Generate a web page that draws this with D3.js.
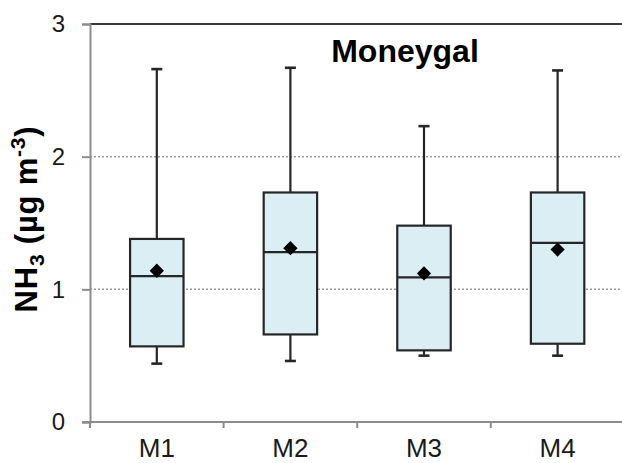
<!DOCTYPE html>
<html>
<head>
<meta charset="utf-8">
<script src="https://cdn.jsdelivr.net/npm/d3@7"></script>
<style>
  html, body { margin: 0; padding: 0; background: #fff; }
  svg { display: block; font-family: "Liberation Sans", Arial, sans-serif; }
</style>
</head>
<body>
<svg id="chart" width="622" height="463"></svg>
<script>
// ---- data ----
const categories = ["M1", "M2", "M3", "M4"];
const whiskerLow  = [0.44, 0.46, 0.50, 0.50];
const q1Values    = [0.57, 0.66, 0.54, 0.59];
const medianValues= [1.10, 1.28, 1.09, 1.35];
const q3Values    = [1.38, 1.73, 1.48, 1.73];
const whiskerHigh = [2.66, 2.67, 2.23, 2.65];
const meanValues  = [1.14, 1.31, 1.12, 1.30];
const yTicks = [0, 1, 2, 3];
const gridTicks = [1, 2];
const chartTitle = "Moneygal";

const rows = categories.map((c, i) => ({
  cat: c, lo: whiskerLow[i], q1: q1Values[i], med: medianValues[i],
  q3: q3Values[i], hi: whiskerHigh[i], mean: meanValues[i]
}));

const svg = d3.select("#chart");
const plotL = 90, plotR = 624.4, plotT = 24, plotB = 422;

const x = d3.scaleBand().domain(categories).range([plotL, plotR]).padding(0);
const y = d3.scaleLinear().domain([0, 3]).range([plotB, plotT]);

// gridlines
svg.append("g").selectAll("line").data(gridTicks).join("line")
  .attr("x1", plotL).attr("x2", plotR)
  .attr("y1", d => y(d)).attr("y2", d => y(d))
  .attr("stroke", "#9a9a9a").attr("stroke-width", 1.5)
  .attr("stroke-dasharray", "2,2");

// top border
svg.append("line")
  .attr("x1", plotL).attr("x2", plotR)
  .attr("y1", y(3)).attr("y2", y(3))
  .attr("stroke", "#3a3a3a").attr("stroke-width", 2);

// y axis
const yAxis = svg.append("g")
  .attr("transform", `translate(${plotL},0)`)
  .call(d3.axisLeft(y).tickValues(yTicks).tickFormat(d3.format("d")).tickSize(8).tickPadding(17));
yAxis.select(".domain").attr("stroke", "#8c8c8c").attr("stroke-width", 2);
yAxis.selectAll(".tick line").attr("stroke", "#8c8c8c").attr("stroke-width", 2);
yAxis.selectAll(".tick text").attr("font-size", 24).attr("fill", "#1a1a1a")
  .attr("font-family", "Liberation Sans, Arial, sans-serif");

// x axis
const xAxis = svg.append("g").attr("transform", `translate(0,${plotB})`);
xAxis.append("line").attr("x1", plotL - 8).attr("x2", plotR)
  .attr("stroke", "#8c8c8c").attr("stroke-width", 2);
const bounds = categories.map(c => x(c)).concat([x(categories[categories.length - 1]) + x.bandwidth()]);
xAxis.selectAll("line.tk").data(bounds).join("line").attr("class", "tk")
  .attr("x1", d => d).attr("x2", d => d).attr("y1", 0).attr("y2", 6)
  .attr("stroke", "#8c8c8c").attr("stroke-width", 2);
xAxis.selectAll("text").data(categories).join("text")
  .attr("x", d => x(d) + x.bandwidth() / 2).attr("y", 35)
  .attr("text-anchor", "middle").attr("font-size", 26).attr("fill", "#1a1a1a")
  .text(d => d);

// boxes
const bw = x.bandwidth() * 0.4;
const capW = 11;
const g = svg.append("g").selectAll("g").data(rows).join("g")
  .attr("transform", d => `translate(${x(d.cat) + x.bandwidth() / 2},0)`);
const stroke = "#262626";
g.append("line").attr("x1", 0).attr("x2", 0)
  .attr("y1", d => y(d.hi)).attr("y2", d => y(d.q3)).attr("stroke", stroke).attr("stroke-width", 2.2);
g.append("line").attr("x1", 0).attr("x2", 0)
  .attr("y1", d => y(d.q1)).attr("y2", d => y(d.lo)).attr("stroke", stroke).attr("stroke-width", 2.2);
g.append("line").attr("x1", -capW / 2).attr("x2", capW / 2)
  .attr("y1", d => y(d.hi)).attr("y2", d => y(d.hi)).attr("stroke", stroke).attr("stroke-width", 2.6);
g.append("line").attr("x1", -capW / 2).attr("x2", capW / 2)
  .attr("y1", d => y(d.lo)).attr("y2", d => y(d.lo)).attr("stroke", stroke).attr("stroke-width", 2.6);
g.append("rect").attr("x", -bw / 2).attr("width", bw)
  .attr("y", d => y(d.q3)).attr("height", d => y(d.q1) - y(d.q3))
  .attr("fill", "#dbeef4").attr("stroke", stroke).attr("stroke-width", 2.2);
g.append("line").attr("x1", -bw / 2).attr("x2", bw / 2)
  .attr("y1", d => y(d.med)).attr("y2", d => y(d.med)).attr("stroke", stroke).attr("stroke-width", 2.2);
g.append("path")
  .attr("d", d3.symbol(d3.symbolDiamond2, 130))
  .attr("transform", d => `translate(0,${y(d.mean)})`)
  .attr("fill", "#000");

// title
svg.append("text").attr("x", 405).attr("y", 61.5)
  .attr("text-anchor", "middle").attr("font-size", 32).attr("font-weight", "bold")
  .attr("fill", "#000").text(chartTitle);

// y title
const yt = svg.append("text")
  .attr("transform", `translate(37,219) rotate(-90)`)
  .attr("text-anchor", "middle").attr("font-size", 31).attr("font-weight", "bold")
  .attr("letter-spacing", 0.8)
  .attr("fill", "#000");
yt.append("tspan").text("NH");
yt.append("tspan").attr("font-size", 21).attr("dy", 7).text("3");
yt.append("tspan").attr("dy", -7).text(" (µg m");
yt.append("tspan").attr("font-size", 21).attr("dy", -12).text("-3");
yt.append("tspan").attr("dy", 12).text(")");
</script>
</body>
</html>
